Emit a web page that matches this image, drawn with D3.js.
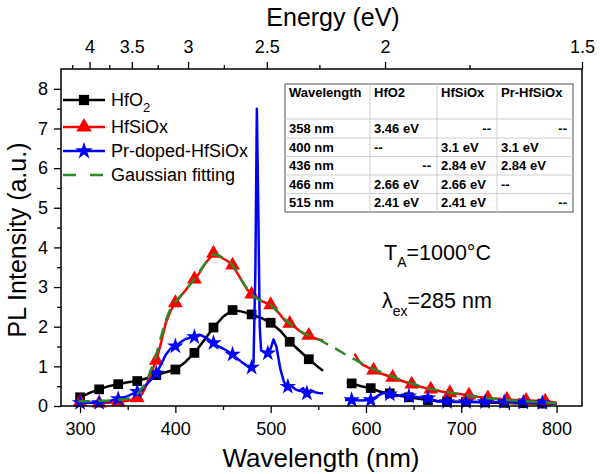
<!DOCTYPE html>
<html><head><meta charset="utf-8">
<script src="https://cdn.jsdelivr.net/npm/d3@7"></script>
<style>
body{margin:0;background:#fff}
svg{display:block}
text{font-family:"Liberation Sans",Arial,Helvetica,sans-serif;fill:#000}
</style>
</head><body>
<svg id="chart" width="600" height="474"></svg>
<script>
// ---------------- DATA ----------------
const hfo2Wl = [300,310,320,330,340,350,360,370,380,390,400,410,420,430,440,450,460,470,480,490,500,510,520,530,540,550,555,570,580,585,595,605,615,625,635,645,655,665,675,685,695,705,715,725,735,745,755,765,775,785,795,800];
const hfo2I  = [0.22,0.33,0.42,0.5,0.55,0.6,0.63,0.7,0.78,0.85,0.92,1.1,1.34,1.65,1.98,2.25,2.42,2.38,2.31,2.22,2.1,1.9,1.62,1.4,1.18,0.98,0.89,null,0.62,0.57,0.5,0.45,0.36,0.32,0.26,0.22,0.18,0.15,0.12,0.11,0.11,0.11,0.1,0.09,0.08,0.08,0.07,0.07,0.06,0.06,0.06,0.05];
const hfo2Marks = [300,320,340,360,380,400,420,440,460,480,500,520,540,585,605,625,645,665,685,705,725,745,765,785];

const hfsioxWl = [300,310,320,330,340,350,360,365,370,375,380,385,390,395,400,405,410,415,420,425,430,435,440,445,450,455,460,465,470,475,480,485,490,495,500,505,510,515,520,525,530,535,540,545,550,555,570,588,592,596,600,608,618,628,638,648,658,668,678,688,698,708,718,728,738,748,758,768,778,788,795,800];
const hfsioxI  = [0.1,0.08,0.07,0.08,0.1,0.13,0.2,0.3,0.55,0.85,1.15,1.6,2.1,2.4,2.6,2.75,2.9,3.05,3.2,3.35,3.55,3.7,3.85,3.8,3.72,3.65,3.55,3.35,3.15,2.95,2.82,2.75,2.65,2.6,2.55,2.45,2.3,2.15,2.08,2.0,1.9,1.82,1.78,1.72,1.68,1.65,null,1.32,1.15,1.05,1.0,0.9,0.8,0.72,0.63,0.55,0.48,0.42,0.37,0.33,0.3,0.27,0.23,0.2,0.18,0.16,0.15,0.14,0.13,0.12,0.1,0.08];
const hfsioxMarks = [300,320,340,360,380,400,420,440,460,480,500,520,540,608,628,648,668,688,708,728,748,768,788];

const prWl = [300,310,320,330,340,350,360,365,370,375,380,385,390,395,400,405,410,415,420,425,430,435,440,445,450,455,460,465,470,475,480,482,484,485.5,487,488.5,490,494,497,500,503,506,510,514,518,522,526,530,534,538,542,546,550,555,570,578,585,595,605,612,618,625,632,638,645,655,665,675,685,695,705,715,725,735,745,755,765,775,785,795,800];
const prI  = [0.08,0.08,0.08,0.12,0.18,0.25,0.36,0.45,0.55,0.68,0.82,1.05,1.3,1.45,1.51,1.6,1.68,1.72,1.74,1.8,1.75,1.68,1.59,1.5,1.45,1.38,1.3,1.2,1.1,1.02,0.97,1.1,3.5,7.5,5.0,2.0,1.4,1.35,1.33,1.45,1.68,1.5,0.95,0.6,0.49,0.5,0.42,0.38,0.45,0.32,0.4,0.35,0.33,0.32,null,0.15,0.15,0.14,0.15,0.25,0.33,0.3,0.25,0.27,0.25,0.22,0.2,0.12,0.1,0.1,0.1,0.1,0.1,0.1,0.1,0.1,0.09,0.09,0.08,0.07,0.06];
const prMarks = [300,320,340,360,380,400,420,440,460,480,497,518,538,585,605,625,645,665,685,705,725,745,765,785];

const fitWl = [298,300,310,320,330,340,350,355,360,365,370,375,380,385,390,395,400,410,420,430,440,445,450,460,470,480,490,500,510,520,530,540,550,560,570,580,590,600,620,640,660,680,700,720,740,760,780,800];
const fitI  = [0.11,0.12,0.12,0.13,0.14,0.16,0.18,0.22,0.3,0.45,0.65,0.95,1.3,1.75,2.15,2.45,2.62,2.9,3.2,3.55,3.82,3.8,3.73,3.55,3.15,2.82,2.65,2.55,2.3,2.08,1.9,1.78,1.68,1.55,1.42,1.28,1.15,1.02,0.82,0.63,0.48,0.37,0.29,0.22,0.17,0.13,0.1,0.07];

const xTicks = [300,400,500,600,700,800];
const yTicks = [0,1,2,3,4,5,6,7,8];
const energyTicks = [4,3.5,3,2.5,2,1.5];
const energyMinor = [4.25,3.75,3.25,2.75,2.25,1.75];

const seriesNames = ["HfO2","HfSiOx","Pr-doped-HfSiOx","Gaussian fitting"];

const tableHeader = ["Wavelength","HfO2","HfSiOx","Pr-HfSiOx"];
const tableRows = [
  ["358 nm","3.46 eV","--","--"],
  ["400 nm","--","3.1 eV","3.1 eV"],
  ["436 nm","--","2.84 eV","2.84 eV"],
  ["466 nm","2.66 eV","2.66 eV","--"],
  ["515 nm","2.41 eV","2.41 eV","--"]
];
const tableAlign = [
  ["l","l","r","r"],
  ["l","l","l","l"],
  ["l","r","l","l"],
  ["l","l","l","l"],
  ["l","l","l","r"]
];

// ---------------- CHART ----------------
const svg = d3.select("#chart");
const L = 61, R = 582, T = 69, B = 406;
const x = d3.scaleLinear().domain([280, 1240/1.5]).range([L, R]);
const y = d3.scaleLinear().domain([0, 8.5]).range([B, T]);

const FONT = '"Liberation Sans",Arial,Helvetica,sans-serif';

function pairs(wl, I){ return wl.map((w,i)=>[w, I[i]]); }
function markPts(wl, I, marks){ return marks.map(m => [m, I[wl.indexOf(m)]]); }

const line = d3.line().defined(d => d[1] != null).x(d => x(d[0])).y(d => y(d[1]));

const plot = svg.append("g");

function drawSeries(wl, I, marks, color, symType, symSize){
  plot.append("path").datum(pairs(wl,I)).attr("d", line)
    .attr("fill","none").attr("stroke",color).attr("stroke-width",2.5).attr("stroke-linejoin","round");
  const sym = d3.symbol().type(symType).size(symSize);
  plot.selectAll(null).data(markPts(wl,I,marks)).enter().append("path")
    .attr("d", sym).attr("fill", color)
    .attr("transform", d => `translate(${x(d[0])},${y(d[1])})`);
}

drawSeries(hfo2Wl, hfo2I, hfo2Marks, "#000", d3.symbolSquare, 95);
drawSeries(hfsioxWl, hfsioxI, hfsioxMarks, "#ff0000", d3.symbolTriangle, 95);
drawSeries(prWl, prI, prMarks, "#0000ff", d3.symbolStar, 85);

plot.append("path").datum(pairs(fitWl, fitI))
  .attr("d", d3.line().x(d=>x(d[0])).y(d=>y(d[1])).curve(d3.curveMonotoneX))
  .attr("fill","none").attr("stroke","#2a8a2a").attr("stroke-width",2.5)
  .attr("stroke-dasharray","12,8");

// ---------------- AXES ----------------
const axStyle = g => {
  g.select(".domain").remove();
  g.selectAll("line").attr("stroke","#000").attr("stroke-width",1.3);
  g.selectAll("text").attr("font-size",18).attr("font-family",FONT).attr("fill","#000");
};

svg.append("g").attr("transform",`translate(0,${B})`)
  .call(d3.axisBottom(x).tickValues(xTicks).tickSize(7).tickPadding(9).tickFormat(d3.format("d")))
  .call(axStyle);
svg.append("g").attr("transform",`translate(0,${B})`)
  .call(d3.axisBottom(x).tickValues(xTicks.map(v=>v+50).filter(v=>v<=800)).tickSize(4).tickFormat(""))
  .call(axStyle);
svg.append("g").attr("transform",`translate(${L},0)`)
  .call(d3.axisLeft(y).tickValues(yTicks).tickSize(7).tickPadding(6).tickFormat(d3.format("d")))
  .call(axStyle);
svg.append("g").attr("transform",`translate(${L},0)`)
  .call(d3.axisLeft(y).tickValues(yTicks.slice(0,-1).map(v=>v+0.5)).tickSize(4).tickFormat(""))
  .call(axStyle);
svg.append("g").attr("transform",`translate(0,${T})`)
  .call(d3.axisTop(x).tickValues(energyTicks.map(e=>1240/e)).tickSize(7).tickPadding(9)
        .tickFormat((d,i)=>String(energyTicks[i])))
  .call(axStyle);
svg.append("g").attr("transform",`translate(0,${T})`)
  .call(d3.axisTop(x).tickValues(energyMinor.map(e=>1240/e)).tickSize(4).tickFormat(""))
  .call(axStyle);

svg.append("rect").attr("x",L).attr("y",T).attr("width",R-L).attr("height",B-T)
  .attr("fill","none").attr("stroke","#000").attr("stroke-width",1.5);

svg.append("text").attr("x",333).attr("y",26).attr("text-anchor","middle")
  .attr("font-size",25).text("Energy (eV)");
svg.append("text").attr("x",321).attr("y",467).attr("text-anchor","middle")
  .attr("font-size",26).text("Wavelength (nm)");
svg.append("text").attr("transform","translate(26,240) rotate(-90)").attr("text-anchor","middle")
  .attr("font-size",25).text("PL Intensity (a.u.)");

// ---------------- LEGEND ----------------
const legY = [100,127,151,175];
const legColors = ["#000","#ff0000","#0000ff","#2a8a2a"];
const legSyms = [d3.symbolSquare, d3.symbolTriangle, d3.symbolStar, null];
const legSizes = [105, 105, 95, 0];
const leg = svg.append("g");
seriesNames.forEach((name,i)=>{
  const g = leg.append("g").attr("transform",`translate(0,${legY[i]})`);
  if(legSyms[i]){
    g.append("line").attr("x1",63).attr("x2",105).attr("y1",0).attr("y2",0)
      .attr("stroke",legColors[i]).attr("stroke-width",2.5);
    g.append("path").attr("d", d3.symbol().type(legSyms[i]).size(legSizes[i])())
      .attr("transform","translate(84,0)").attr("fill",legColors[i]);
  } else {
    g.append("line").attr("x1",63).attr("x2",105).attr("y1",0).attr("y2",0)
      .attr("stroke",legColors[i]).attr("stroke-width",2.5).attr("stroke-dasharray","13,14");
  }
  const t = g.append("text").attr("x",111).attr("y",6).attr("font-size",18);
  if(name === "HfO2"){
    t.append("tspan").text("HfO");
    t.append("tspan").attr("dy",6).attr("font-size",13).text("2");
  } else t.text(name);
});

// ---------------- TABLE ----------------
const colX = [285,370,437,497,573];
const rowY = [84,119,138,156.5,175,193.5,212];
const tbl = svg.append("g");
tbl.append("rect").attr("x",colX[0]).attr("y",rowY[0]).attr("width",colX[4]-colX[0]).attr("height",rowY[6]-rowY[0])
  .attr("fill","#fff").attr("stroke","#8a8a8a").attr("stroke-width",1.5);
colX.slice(1,4).forEach(cx=>tbl.append("line").attr("x1",cx).attr("x2",cx).attr("y1",rowY[0]).attr("y2",rowY[6])
  .attr("stroke","#cfcfcf").attr("stroke-width",1));
rowY.slice(1,6).forEach(ry=>tbl.append("line").attr("x1",colX[0]).attr("x2",colX[4]).attr("y1",ry).attr("y2",ry)
  .attr("stroke","#cfcfcf").attr("stroke-width",1));
tableHeader.forEach((h,j)=>tbl.append("text").attr("x",colX[j]+4).attr("y",rowY[0]+12.5)
  .attr("font-size",13).attr("font-weight","bold").text(h));
tableRows.forEach((row,i)=>row.forEach((c,j)=>{
  const right = tableAlign[i][j]==="r";
  tbl.append("text").attr("x", right ? colX[j+1]-6 : colX[j]+4)
    .attr("y", (rowY[i+1]+rowY[i+2])/2 + 4.5)
    .attr("text-anchor", right ? "end":"start")
    .attr("font-size",13).attr("font-weight","bold").text(c);
}));

// ---------------- ANNOTATIONS ----------------
const a1 = svg.append("text").attr("x",384).attr("y",260).attr("font-size",21.5);
a1.append("tspan").text("T");
a1.append("tspan").attr("dy",7).attr("font-size",14).text("A");
a1.append("tspan").attr("dy",-7).text("=1000°C");
const a2 = svg.append("text").attr("x",382).attr("y",308).attr("font-size",21.5);
a2.append("tspan").text("λ");
a2.append("tspan").attr("dy",8).attr("font-size",14).text("ex");
a2.append("tspan").attr("dy",-8).text("=285 nm");
</script>
</body></html>
